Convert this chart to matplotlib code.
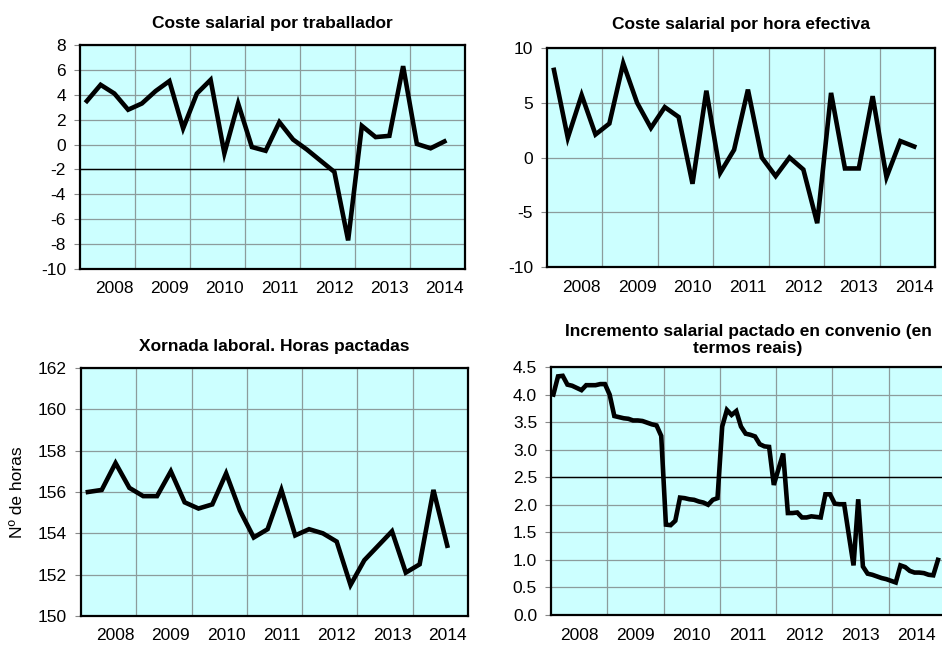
import matplotlib
matplotlib.use("Agg")
import matplotlib.pyplot as plt
import numpy as np

plt.rcParams["font.family"] = ["Liberation Sans", "DejaVu Sans"]

years = ["2008", "2009", "2010", "2011", "2012", "2013", "2014"]

# quarterly series, 2008Q1 .. 2014Q3
coste_traballador = [3.5, 4.8, 4.1, 2.8, 3.3, 4.3, 5.1, 1.3, 4.1, 5.2, -0.7, 3.3,
                     -0.2, -0.5, 1.8, 0.4, -0.4, -1.3, -2.2, -7.7, 1.5, 0.6, 0.7,
                     6.3, 0.05, -0.3, 0.25]
coste_hora = [8.0, 1.8, 5.7, 2.1, 3.1, 8.6, 5.0, 2.7, 4.6, 3.7, -2.4, 6.1, -1.4,
              0.7, 6.2, 0.0, -1.7, 0.0, -1.1, -6.0, 5.9, -1.0, -1.0, 5.6, -1.8,
              1.5, 1.0]
xornada = [156.0, 156.1, 157.4, 156.2, 155.8, 155.8, 157.0, 155.5, 155.2, 155.4,
           156.9, 155.1, 153.8, 154.2, 156.1, 153.9, 154.2, 154.0, 153.6, 151.5,
           152.7, 153.4, 154.1, 152.1, 152.5, 156.1, 153.4]

# monthly series, 2008-01 .. 2014-11
incremento = [4.00, 4.33, 4.34, 4.18, 4.16, 4.12, 4.08, 4.17, 4.17, 4.17, 4.19, 4.19,
              4.00, 3.61, 3.59, 3.57, 3.56, 3.53, 3.53, 3.52, 3.49, 3.46, 3.44, 3.25,
              1.64, 1.63, 1.71, 2.13, 2.12, 2.10, 2.09, 2.06, 2.04, 2.00, 2.09, 2.12,
              3.42, 3.72, 3.63, 3.70, 3.42, 3.29, 3.27, 3.24, 3.10, 3.06, 3.05, 2.36,
              2.65, 2.93, 1.85, 1.85, 1.86, 1.77, 1.77, 1.79, 1.78, 1.77, 2.19, 2.19,
              2.02, 2.01, 2.01, 1.45, 0.90, 2.10, 0.88, 0.75, 0.73, 0.70, 0.67, 0.65,
              0.62, 0.59, 0.90, 0.87, 0.80, 0.77, 0.77, 0.76, 0.73, 0.72, 1.00]

BG = "#ccffff"
GRID = "#8c9c9c"
FS = 12.5
W, H = 942, 646


def px_axes(fig, x0, y0, x1, y1):
    return fig.add_axes([x0 / W, 1 - y1 / H, (x1 - x0) / W, (y1 - y0) / H])


def panel(ax, data, per_year, ylim, yticks, title, axis_at, tpad,
          fmt="{:g}", label_at=None):
    n_slots = per_year * len(years)
    x = np.arange(len(data))
    ax.set_facecolor(BG)
    for b in range(1, len(years)):
        ax.axvline(b * per_year - 0.5, color=GRID, lw=0.9, zorder=1)
    for t in yticks:
        ax.axhline(t, color=GRID, lw=0.9, zorder=1)
    ax.axhline(axis_at, color="black", lw=1.0, zorder=2)
    ax.plot(x, data, color="black", lw=3.3, solid_joinstyle="miter", zorder=3)
    ax.set_xlim(-0.5, n_slots - 0.5)
    ax.set_ylim(*ylim)
    ax.set_yticks(yticks)
    ax.set_yticklabels([fmt.format(t) for t in yticks])
    if label_at is None:
        label_at = (per_year - 1) / 2
    ax.set_xticks([i * per_year + label_at for i in range(len(years))])
    ax.set_xticklabels(years)
    ax.tick_params(axis="x", length=0, pad=9, labelsize=FS)
    ax.tick_params(axis="y", length=4, width=0.8, color="#888888", pad=6, labelsize=FS)
    for s in ax.spines.values():
        s.set_linewidth(1.6)
        s.set_color("black")
    ax.set_title(title, fontsize=FS, fontweight="bold", pad=tpad, linespacing=1.15)


fig = plt.figure(figsize=(W / 100, H / 100), dpi=100)

ax1 = px_axes(fig, 80, 45, 465, 269)
panel(ax1, coste_traballador, 4, (-10, 8), list(range(-10, 9, 2)),
      "Coste salarial por traballador", -2, 12, label_at=2)

ax2 = px_axes(fig, 547, 48, 935, 267)
panel(ax2, coste_hora, 4, (-10, 10), [-10, -5, 0, 5, 10],
      "Coste salarial por hora efectiva", -10, 14, label_at=2)

ax3 = px_axes(fig, 81, 368, 468, 616)
panel(ax3, xornada, 4, (150, 162), list(range(150, 163, 2)),
      "Xornada laboral. Horas pactadas", 150, 12, label_at=2)
ax3.set_ylabel("Nº de horas", fontsize=FS, labelpad=9)

ax4 = px_axes(fig, 551, 367, 945, 615)
panel(ax4, incremento, 12, (0, 4.5), [i * 0.5 for i in range(10)],
      "Incremento salarial pactado en convenio (en\ntermos reais)", 2.5, 10,
      fmt="{:.1f}")

fig.savefig("out.png", dpi=100)
